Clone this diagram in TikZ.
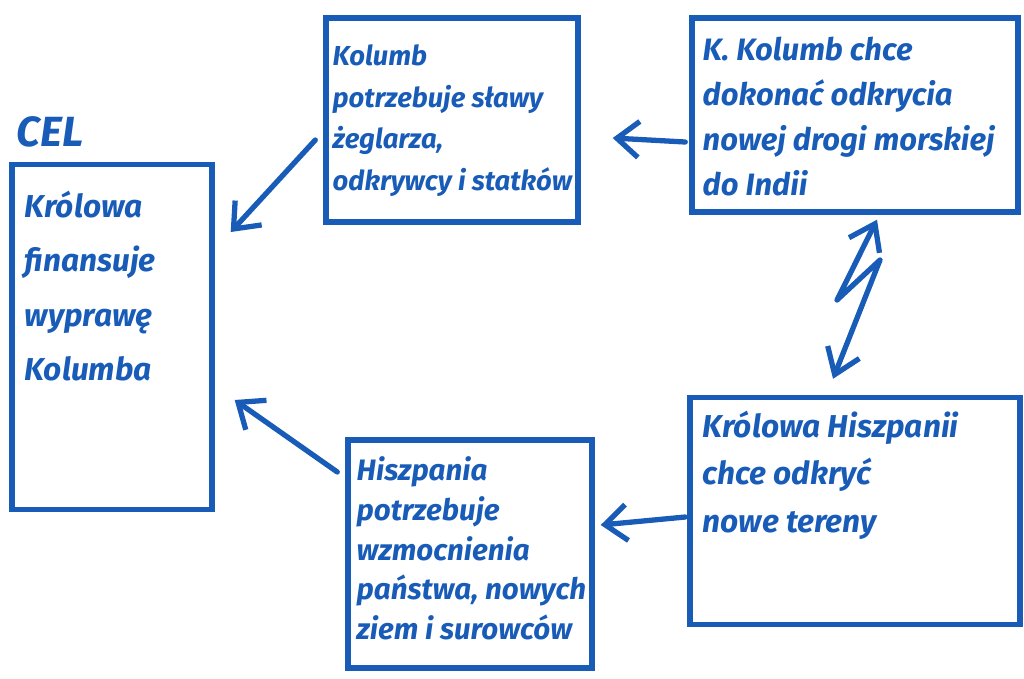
\documentclass[tikz,border=0pt]{standalone}
\usepackage{fontspec}
\setmainfont{Fira Sans}
\usetikzlibrary{arrows.meta}
\definecolor{ink}{RGB}{24,92,184}

\begin{document}
\begin{tikzpicture}[x=0.01cm, y=-0.01cm,
    box/.style={draw=ink, line width=1.5pt, inner sep=0pt},
    txt/.style={text=ink, anchor=north west, inner sep=0pt, align=left},
    arr/.style={draw=ink, line width=1.5pt, line cap=round, line join=round,
        -{Straight Barb[length=2.2mm, width=3.6mm]}},
    zig/.style={draw=ink, line width=1.5pt, line cap=round, line join=round,
        {Straight Barb[length=2.4mm, width=3.4mm]}-{Straight Barb[length=2.4mm, width=3.4mm]}}]
        \useasboundingbox (0,0) rectangle (1024,678);

        % pudelka
        \node[box, minimum width=2cm, minimum height=3.45cm] at (112, 337) (cel) {};
        \node[box, minimum width=2.52cm, minimum height=2.04cm] at (452, 120) (kolumb) {};
        \node[box, minimum width=3.26cm, minimum height=1.94cm] at (855, 115) (droga) {};
        \node[box, minimum width=3.3cm, minimum height=2.27cm] at (855, 511) (krolowa) {};
        \node[box, minimum width=2.44cm, minimum height=2.28cm] at (470, 554) (hiszpania) {};

        % napisy
        \node[txt, font={\fontsize{12}{14}\selectfont\bfseries\itshape}] at (16, 116) (celnapis) {CEL};
        \node[txt, font={\fontsize{9}{15.5}\selectfont\bfseries\itshape}] at (24, 190) (celtxt)
            {Królowa\\finansuje\\wyprawę\\Kolumba};
        \node[txt, font={\fontsize{7.8}{11.8}\selectfont\bfseries\itshape}] at (332, 44) (kolumbtxt)
            {Kolumb\\potrzebuje sławy\\żeglarza,\\odkrywcy i statków};
        \node[txt, font={\fontsize{8.8}{12.8}\selectfont\bfseries\itshape}] at (702, 36) (drogatxt)
            {K. Kolumb chce\\dokonać odkrycia\\nowej drogi morskiej\\do Indii};
        \node[txt, font={\fontsize{9}{13.6}\selectfont\bfseries\itshape}] at (702, 410) (krolowatxt)
            {Królowa Hiszpanii\\chce odkryć\\nowe tereny};
        \node[txt, font={\fontsize{8.4}{11.3}\selectfont\bfseries\itshape}] at (356, 456) (hiszpaniatxt)
            {Hiszpania\\potrzebuje\\wzmocnienia\\państwa, nowych\\ziem i surowców};

        % strzalki
        \coordinate (z1) at (837, 300);
        \coordinate (z2) at (880, 260);
        \draw[arr] ([shift={(-4, 27)}]droga.west) -- ([shift={(32, 18)}]kolumb.east);
        \draw[arr] ([shift={(-8, 20)}]kolumb.west) -- ([shift={(16, -105)}]cel.east);
        \draw[arr] ([shift={(-2, 6)}]krolowa.west) -- ([shift={(6, -29)}]hiszpania.east);
        \draw[arr] ([shift={(-8, -82)}]hiszpania.west) -- ([shift={(20, 63)}]cel.east);
        \draw[zig] ([shift={(22, 5)}]droga.south) -- (z1) -- (z2) -- ([shift={(-22, -16)}]krolowa.north);
    \end{tikzpicture}
\end{document}
